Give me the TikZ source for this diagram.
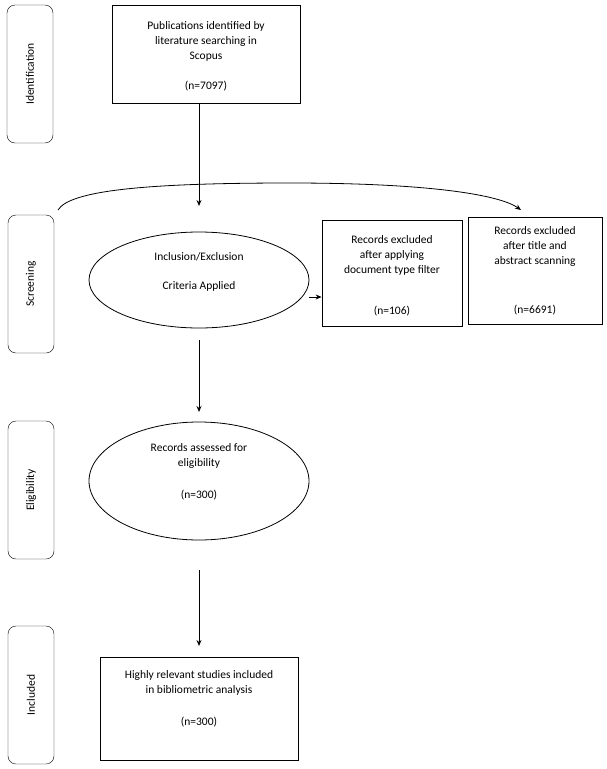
\documentclass[tikz,border=0pt]{standalone}
\usepackage{fontspec}
\setmainfont{Carlito}
\usetikzlibrary{shapes.geometric,arrows.meta}
\begin{document}
\begin{tikzpicture}[x=1pt,y=-1pt,
  every node/.style={font=\fontsize{11.5}{15}\selectfont},
  side/.style={draw,rounded corners=8pt,minimum width=46pt,minimum height=138pt,inner sep=0pt},
  sidet/.style={rotate=90},
  box/.style={draw,thick,align=center,inner sep=0pt},
  ell/.style={draw,ellipse,thick,align=center,inner sep=0pt},
  arr/.style={-{Stealth[length=6pt,width=5pt]},thick}]
\useasboundingbox (0,0) rectangle (606,769);
\node[side] (s1) at (30,74) {}; \node[sidet] at (30,74) {Identification};
\node[side] (s2) at (31,284) {}; \node[sidet] at (31,284) {Screening};
\node[side] (s3) at (31,490) {}; \node[sidet] at (31,490) {Eligibility};
\node[side] (s4) at (31,695) {}; \node[sidet] at (31,695) {Included};
\node[box,minimum width=188pt,minimum height=98pt] (b1) at (206,54) {};
\node[align=center] at (206,41) {Publications identified by\\literature searching in\\Scopus};
\node at (206,86) {(n=7097)};
\node[ell,minimum width=220pt,minimum height=96pt] (e1) at (199,280) {};
\node at (199,257) {Inclusion/Exclusion};
\node at (199,286) {Criteria Applied};
\node[box,minimum width=140pt,minimum height=106pt] (b2) at (392,273) {};
\node[align=center] at (392,255) {Records excluded\\after applying\\document type filter};
\node at (392,311) {(n=106)};
\node[box,minimum width=134pt,minimum height=107pt] (b3) at (535,271) {};
\node[align=center] at (535,246) {Records excluded\\after title and\\abstract scanning};
\node at (535,310) {(n=6691)};
\node[ell,minimum width=220pt,minimum height=118pt] (e2) at (199,481) {};
\node[align=center] at (199,456) {Records assessed for\\eligibility};
\node at (199,495) {(n=300)};
\node[box,minimum width=198pt,minimum height=103pt] (b4) at (199,709) {};
\node[align=center] at (199,683) {Highly relevant studies included\\in bibliometric analysis};
\node at (199,722) {(n=300)};
\coordinate (a1s) at (199,103); \coordinate (a1e) at (199,206);
\coordinate (a2s) at (199,340); \coordinate (a2e) at (199,412);
\coordinate (a3s) at (199,570); \coordinate (a3e) at (199,646);
\coordinate (cs) at (58,210); \coordinate (ce) at (521,210);
\draw[arr] (a1s) -- (a1e);
\draw[arr] (a2s) -- (a2e);
\draw[arr] (a3s) -- (a3e);
\draw[arr] (e1.east |- 0,297) -- (b2.west |- 0,297);
\draw[arr] (cs) .. controls (70,190) and (150,183) .. (290,183) .. controls (430,183) and (500,195) .. (ce);
\end{tikzpicture}
\end{document}
